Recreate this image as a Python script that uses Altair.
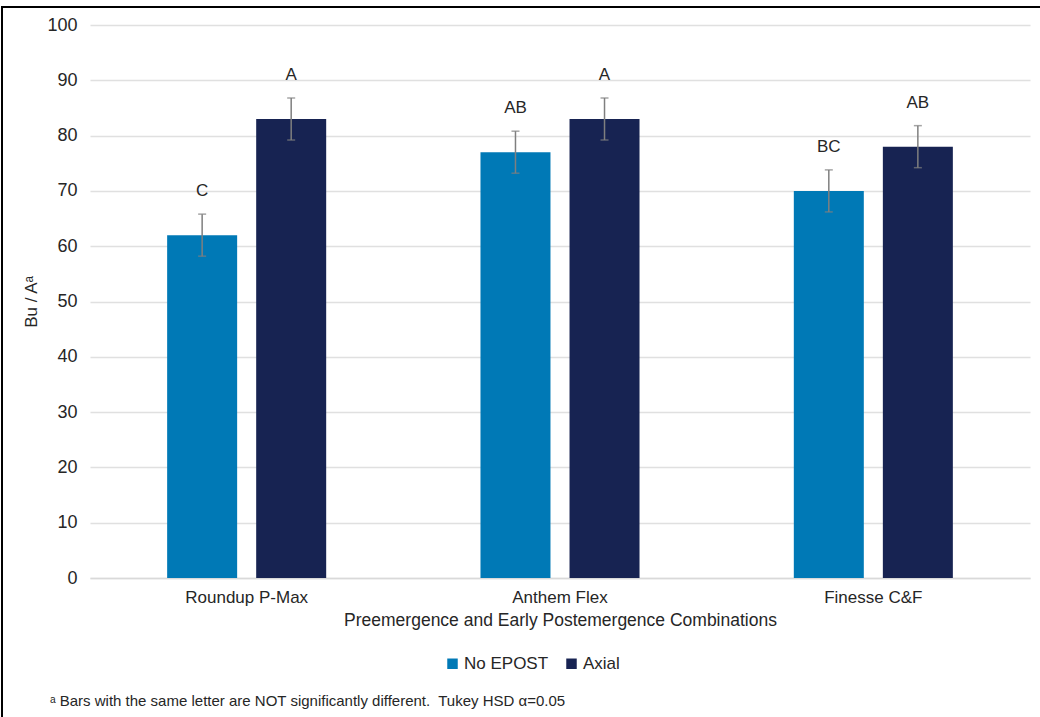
import altair as alt
import pandas as pd

combos = ["Roundup P-Max", "Anthem Flex", "Finesse C&F"]
series = ["No EPOST", "Axial"]
no_epost = [62, 77, 70]
axial = [83, 83, 78]
err_no_epost = [3.8, 3.8, 3.8]
err_axial = [3.8, 3.8, 3.8]
letters_no_epost = ["C", "AB", "BC"]
letters_axial = ["A", "A", "AB"]
colors = ["#0079B6", "#172352"]
footnote = ["\u1d43 Bars with the same letter are NOT significantly different.\u00a0 Tukey HSD \u03b1=0.05"]

rows = []
for i, c in enumerate(combos):
    rows.append(dict(combo=c, series=series[0], value=no_epost[i],
                     lo=no_epost[i] - err_no_epost[i], hi=no_epost[i] + err_no_epost[i],
                     letter=letters_no_epost[i]))
    rows.append(dict(combo=c, series=series[1], value=axial[i],
                     lo=axial[i] - err_axial[i], hi=axial[i] + err_axial[i],
                     letter=letters_axial[i]))
df = pd.DataFrame(rows)

FONT = "Liberation Sans"
TXT = "#262626"

x = alt.X("combo:N", sort=combos,
          scale=alt.Scale(paddingInner=0, paddingOuter=0),
          axis=alt.Axis(title="Preemergence and Early Postemergence Combinations",
                        labelAngle=0, labelFontSize=17, labelColor=TXT,
                        labelFont=FONT, titleFont=FONT, titleFontSize=17.5,
                        titleFontWeight="normal", titleColor=TXT,
                        ticks=False, domainColor="#d9d9d9", domainWidth=1.5,
                        labelPadding=11, titlePadding=6, grid=False))
xoff = alt.XOffset("series:N", sort=series,
                   scale=alt.Scale(paddingInner=0.213, paddingOuter=0.866))

base = alt.Chart(df).encode(x=x, xOffset=xoff)

bars = base.mark_bar(size=70).encode(
    y=alt.Y("value:Q", scale=alt.Scale(domain=[0, 100]),
            axis=alt.Axis(title="Bu / A\u1d43", values=list(range(0, 101, 10)),
                          labelFontSize=18, labelColor=TXT, labelFont=FONT,
                          titleFont=FONT, titleFontSize=17, titleFontWeight="normal",
                          titleColor=TXT, titlePadding=6,
                          ticks=False, domain=False, gridColor="#e0e0e0",
                          gridWidth=1.5, labelPadding=13)),
    color=alt.Color("series:N", sort=series,
                    scale=alt.Scale(domain=series, range=colors),
                    legend=alt.Legend(title=None, orient="none", legendX=354,
                                      legendY=630, direction="horizontal",
                                      symbolType="square", symbolSize=110,
                                      symbolStrokeWidth=0, labelFontSize=17,
                                      labelFont=FONT, labelColor=TXT,
                                      columnPadding=14, symbolOffset=0,
                                      labelOffset=3)),
)

rules = base.mark_rule(color="#7f7f7f", strokeWidth=1.5).encode(
    y="lo:Q", y2="hi:Q")
caps_hi = base.mark_tick(color="#7f7f7f", thickness=1.5, size=8).encode(y="hi:Q")
caps_lo = base.mark_tick(color="#7f7f7f", thickness=1.5, size=8).encode(y="lo:Q")
labels = base.mark_text(dy=-23, fontSize=17, font=FONT, color=TXT).encode(
    y="hi:Q", text="letter:N")

foot = alt.Chart(pd.DataFrame({"t": footnote})).mark_text(
    align="left", baseline="middle", fontSize=15, font=FONT, color=TXT
).encode(x=alt.value(-40), y=alt.value(676), text="t:N")

border = alt.Chart(pd.DataFrame({"t": footnote})).mark_rect(
    fill=None, stroke="black", strokeWidth=2
).encode(x=alt.value(-88), x2=alt.value(960), y=alt.value(-18), y2=alt.value(700))

chart = alt.layer(bars, rules, caps_hi, caps_lo, labels, foot, border).properties(
    width=940, height=553,
    autosize=alt.AutoSizeParams(type="none"),
    padding={"left": 90, "top": 25, "right": 10, "bottom": 139},
    background="white",
).configure_view(stroke=None)

chart.save("out.html", embed_options={"renderer": "svg", "actions": False})
